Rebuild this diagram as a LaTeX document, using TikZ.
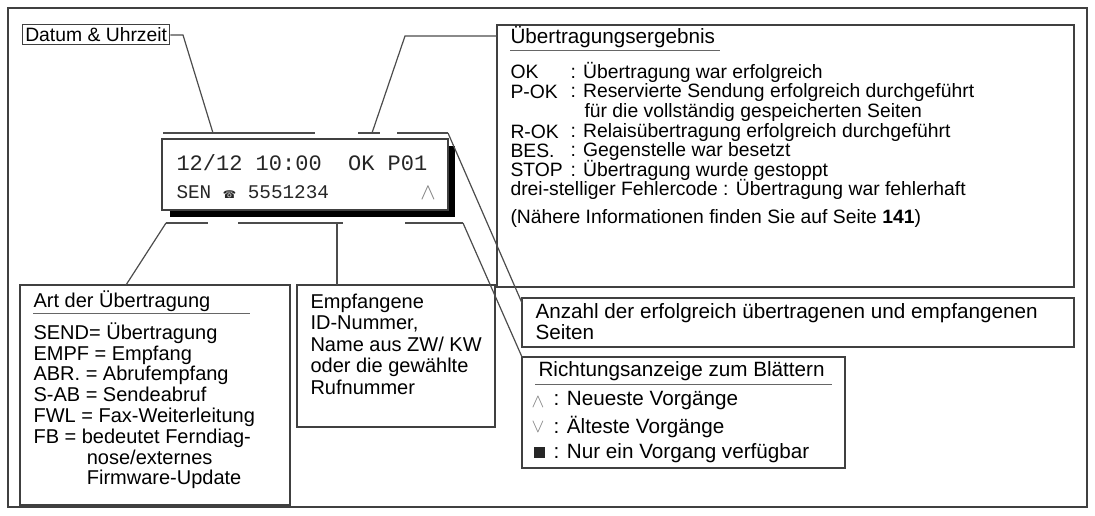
\documentclass[tikz,border=0pt]{standalone}
\usepackage{fontspec}
\setmainfont{Liberation Sans}
\newfontfamily\mono{Liberation Mono}
\newfontfamily\dejavu{DejaVu Sans}
\begin{document}
\begin{tikzpicture}[x=0.75pt,y=-0.75pt,line width=0.8pt,
  box/.style={draw=black!75,line width=0.9pt},
  lead/.style={draw=black!70,line width=0.9pt},
  txt/.style={anchor=west,inner sep=0pt,font=\fontsize{14.5}{16}\selectfont},
  rtxt/.style={anchor=west,inner sep=0pt,font=\fontsize{15.5}{16}\selectfont},
  ltxt/.style={anchor=west,inner sep=0pt,font=\fontsize{15}{16}\selectfont},
  lcd/.style={anchor=west,inner sep=0pt,font=\mono\fontsize{16.5}{18}\selectfont,text=black!85}]
\useasboundingbox (0,0) rectangle (1095,515);
\draw[box] (8,8) rectangle (1087,507);
% Datum
\node[box,anchor=north west,inner sep=2pt,font=\fontsize{14.5}{15}\selectfont] (dat) at (22,24) {Datum \& Uhrzeit};
% display
\fill[black] (170,146) rectangle (455,217);
\draw[box,fill=white] (162,139) rectangle (448,210);
\node[lcd] (l1) at (176,163) {12/12 10:00~~OK P01};
\node[lcd] (l2) at (176,192) {\fontsize{14.5}{16}\selectfont SEN {\dejavu\fontsize{8}{8}\selectfont ☎} 5551234};
\node[inner sep=0pt,text=black!50,font=\fontsize{16}{16}\selectfont] (up) at (428,193) {$\wedge$};
% bars
\draw[lead] (163,133) -- (315,133);
\draw[lead] (358,133) -- (380,133);
\draw[lead] (397,133) -- (448,133);
\draw[lead] (166,223) -- (208,223);
\draw[lead] (238,223) -- (343,223);
\draw[lead] (405,223) -- (463,223);
% ergebnis box
\draw[box] (497,25) rectangle (1074,287);
\node[rtxt] (t0) at (510,37) {Übertragungsergebnis};
\draw[black!60,line width=0.6pt] (510,50) -- (720,50);
\foreach \y/\a/\b in {72/OK/Übertragung war erfolgreich,
  92/P-OK/Reservierte Sendung erfolgreich durchgeführt,
  132/R-OK/Relaisübertragung erfolgreich durchgeführt,
  151/BES./Gegenstelle war besetzt,
  170/STOP/Übertragung wurde gestoppt}
  {\node[txt] at (510,\y) {\a}; \node[txt] at (570,\y) {: \b};}
\node[txt] (t2) at (584,112) {für die vollständig gespeicherten Seiten};
\node[txt] (t3) at (510,189) {drei-stelliger Fehlercode : Übertragung war fehlerhaft};
\node[txt] (t4) at (510,218) {(Nähere Informationen finden Sie auf Seite \textbf{141})};
% anzahl
\draw[box] (522,298) rectangle (1074,347);
\node[rtxt,anchor=north west,align=left,font=\fontsize{15.5}{12}\selectfont] (anz) at (535,303) {Anzahl der erfolgreich übertragenen und empfangenen\\Seiten};
% richtung
\draw[box] (522,357) rectangle (845,468);
\node[rtxt] (r0) at (538,371) {Richtungsanzeige zum Blättern};
\draw[black!60,line width=0.6pt] (535,384) -- (832,384);
\node[rtxt,text=black!50] (r1s) at (531,402) {$\wedge$};
\node[rtxt] (r1) at (553,401) {: Neueste Vorgänge};
\node[rtxt,text=black!50] (r2s) at (531,427) {$\vee$};
\node[rtxt] (r2) at (553,427) {: Älteste Vorgänge};
\fill[black!85] (534,447) rectangle (545,458);
\node[rtxt] (r3) at (553,453) {: Nur ein Vorgang verfügbar};
% art
\draw[box] (20,285) rectangle (290,505);
\node[ltxt] (a0) at (33,301) {Art der Übertragung};
\draw[black!60,line width=0.6pt] (33,313) -- (250,313);
\node[ltxt,anchor=north west,align=left,font=\fontsize{15}{15.6}\selectfont] (a1) at (33,322)
 {SEND= Übertragung\\EMPF = Empfang\\ABR. = Abrufempfang\\S-AB = Sendeabruf\\FWL = Fax-Weiterleitung\\FB = bedeutet Ferndiag-\\\hspace*{40pt}nose/externes\\\hspace*{40pt}Firmware-Update};
% empfangene
\draw[box] (297,285) rectangle (495,427);
\node[ltxt,anchor=north west,align=left,font=\fontsize{15}{16.2}\selectfont] (e1) at (310,293)
 {Empfangene\\ID-Nummer,\\Name aus ZW/ KW\\oder die gewählte\\Rufnummer};
% leaders
\draw[lead] (dat.east |- 0,35) -- (183,35) -- (213,133);
\draw[lead] (497,36) -- (405,36) -- (372,133);
\draw[lead] (448,133) -- (522,303);
\draw[lead] (463,223) -- (522,357);
\draw[lead] (166,223) -- (126,285);
\draw[lead] (337,223) -- (337,285);
\end{tikzpicture}
\end{document}
